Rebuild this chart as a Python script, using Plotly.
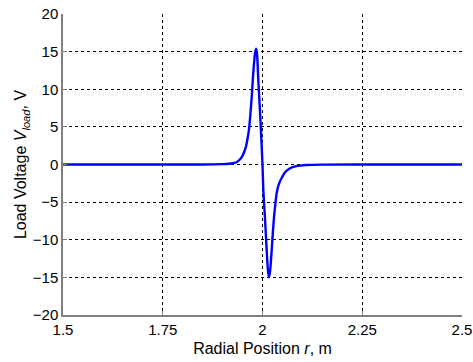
import plotly.graph_objects as go

# Load voltage vs. radial position
r_pos = [1.50, 1.70, 1.85, 1.90, 1.915, 1.926, 1.935, 1.942, 1.948, 1.9535, 1.9586, 1.962,
         1.966, 1.9695, 1.973, 1.976, 1.9787, 1.9815, 1.984, 1.9865, 1.9895, 1.993, 1.996,
         2.000, 2.002, 2.006, 2.0105, 2.0135, 2.016, 2.019, 2.023, 2.026, 2.029, 2.0325,
         2.0355, 2.041, 2.048, 2.057, 2.069, 2.080, 2.094, 2.11, 2.15, 2.30, 2.50]
v_load = [0.0, 0.0, 0.0, 0.05, 0.09, 0.16, 0.3, 0.6, 0.97, 1.6, 2.37, 3.3,
          4.6, 6.6, 9.0, 11.5, 13.4, 14.9, 15.4, 14.6, 11.2, 7.8, 4.6,
          0.0, -3.4, -6.9, -11.4, -14.0, -15.0, -14.2, -11.4, -9.0, -6.9, -5.1,
          -3.8, -2.6, -1.8, -1.0, -0.5, -0.28, -0.15, -0.07, -0.02, 0.0, 0.0]

x_ticks = [1.5, 1.75, 2, 2.25, 2.5]
x_tick_text = ["1.5", "1.75", "2", "2.25", "2.5"]
y_ticks = [-20, -15, -10, -5, 0, 5, 10, 15, 20]

fig = go.Figure()
fig.add_trace(go.Scatter(x=r_pos, y=v_load, mode="lines",
                         line=dict(color="#0000FF", width=2.4, shape="spline", smoothing=0.5),
                         showlegend=False))

font = dict(family="Liberation Sans, Arial, sans-serif", size=15, color="#000000")
axis_common = dict(showgrid=True, gridcolor="#000000", griddash="dot", gridwidth=1,
                   showline=True, linecolor="#808080", linewidth=1.5,
                   ticks="inside", ticklen=4, tickcolor="#808080",
                   zeroline=False, tickfont=font, mirror=False, automargin=False)

fig.update_layout(
    width=473, height=362,
    margin=dict(l=63, r=11, t=14, b=47),
    paper_bgcolor="white", plot_bgcolor="white",
    font=font,
    xaxis=dict(range=[1.5, 2.5], tickvals=x_ticks, ticktext=x_tick_text,
               title=dict(text="Radial Position <i>r</i>, m", font=dict(size=16), standoff=6),
               **axis_common),
    yaxis=dict(range=[-20, 20], tickvals=y_ticks,
               title=dict(text="Load Voltage <i>V<sub>load</sub></i>, V", font=dict(size=16), standoff=2),
               **axis_common),
)

fig.write_html("out.html")
